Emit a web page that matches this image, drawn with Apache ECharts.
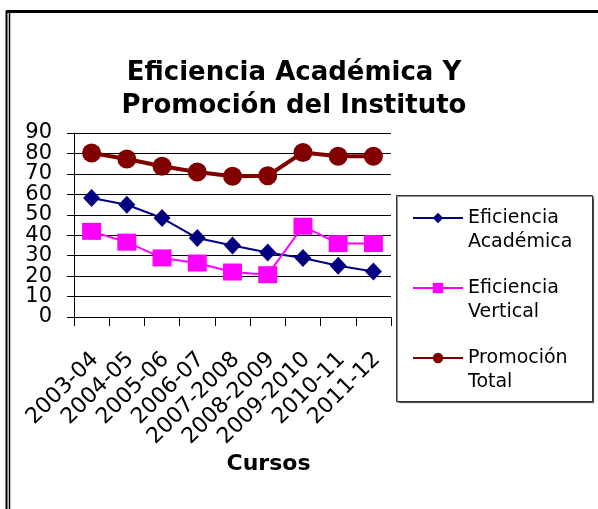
<!DOCTYPE html>
<html><head><meta charset="utf-8">
<script src="https://cdn.jsdelivr.net/npm/echarts@6/dist/echarts.min.js"></script>
<style>html,body{margin:0;padding:0;background:#fff}#c{width:598px;height:509px}</style>
</head><body><div id="c"></div>
<script>
const categories = ['2003-04','2004-05','2005-06','2006-07','2007-2008','2008-2009','2009-2010','2010-11','2011-12'];
const eficienciaAcademica = [58.2, 54.9, 48.4, 38.6, 35.0, 31.6, 28.9, 25.1, 22.3];
const eficienciaVertical = [41.9, 36.6, 28.9, 26.4, 22.0, 20.7, 44.4, 35.9, 35.9];
const promocionTotal = [80.2, 77.3, 73.7, 70.9, 68.8, 69.1, 80.5, 78.6, 78.6];
const yTickValues = [0, 10, 20, 30, 40, 50, 60, 70, 80, 90];
const seriesNames = ['Eficiencia\nAcadémica', 'Eficiencia\nVertical', 'Promoción\nTotal'];
const titleText = 'Eficiencia Académica Y\nPromoción del Instituto';
const xAxisName = 'Cursos';

const F = 'DejaVu Sans';
const chart = echarts.init(document.getElementById('c'), null, {renderer: 'canvas'});
const frame = [
  {type: 'polyline', shape: {points: [[6.5, 509], [6.5, 11.5], [598, 11.5]]}, style: {stroke: '#000', lineWidth: 2, fill: null}, z: 10},
  {type: 'line', shape: {x1: 6.5, y1: 11.5, x2: 598, y2: 11.5}, style: {stroke: '#000', lineWidth: 3}, z: 10},
  {type: 'line', shape: {x1: 9.5, y1: 13, x2: 9.5, y2: 509}, style: {stroke: '#000', lineWidth: 1.5}, z: 10},
  {type: 'rect', shape: {x: 396.5, y: 195.5, width: 196, height: 206}, style: {fill: '#fff', stroke: '#333', lineWidth: 1, shadowColor: 'rgba(0,0,0,0.5)', shadowOffsetX: 1, shadowOffsetY: 1, shadowBlur: 1}, z: 0}
];
chart.setOption({
  backgroundColor: '#fff',
  animation: false,
  title: {
    text: titleText, left: 289, top: 52, textAlign: 'center',
    textStyle: {fontFamily: F, fontSize: 26, fontWeight: 'bold', color: '#000', lineHeight: 33}
  },
  graphic: frame,
  grid: {left: 74, right: 207, top: 133, bottom: 192, containLabel: false},
  legend: {
    orient: 'vertical', left: 412, top: 182, padding: 0, itemGap: -2, z: 5,
    itemWidth: 50, itemHeight: 13,
    data: seriesNames,
    formatter: function (name) { return '\n' + name; },
    textStyle: {fontFamily: F, fontSize: 19, color: '#000', lineHeight: 24}
  },
  xAxis: {
    type: 'category', data: categories, boundaryGap: true,
    name: xAxisName, nameLocation: 'middle', nameGap: 136,
    nameTextStyle: {fontFamily: F, fontSize: 22, fontWeight: 'bold', color: '#000', padding: [0, 0, 0, 72]},
    axisLine: {lineStyle: {color: '#000', width: 1}},
    axisTick: {show: true, length: 9, lineStyle: {color: '#000'}},
    axisLabel: {rotate: 45, margin: 27, padding: [0, 6, 0, 0], verticalAlign: 'top', fontFamily: F, fontSize: 22, color: '#000', interval: 0},
    splitLine: {show: false}
  },
  yAxis: {
    type: 'value', min: 0, max: 90, interval: 10,
    axisLine: {show: true, lineStyle: {color: '#000', width: 1}},
    axisTick: {show: true, length: 7, lineStyle: {color: '#000'}},
    axisLabel: {show: false},
    splitLine: {show: true, lineStyle: {color: '#000', width: 1}}
  },
  series: [
    {name: seriesNames[0], type: 'line', data: eficienciaAcademica, symbol: 'diamond', symbolSize: [17, 18],
     lineStyle: {color: '#000080', width: 2}, itemStyle: {color: '#000080'}},
    {name: seriesNames[1], type: 'line', data: eficienciaVertical, symbol: 'rect', symbolSize: [19, 17],
     lineStyle: {color: '#FF00FF', width: 2}, itemStyle: {color: '#FF00FF'}},
    {name: seriesNames[2], type: 'line', data: promocionTotal, symbol: 'circle', symbolSize: 19,
     lineStyle: {color: '#800000', width: 4}, itemStyle: {color: '#800000'}}
  ]
});
// y-axis tick labels placed through the axis scale (the library hides crowded ones otherwise)
const axisX = chart.convertToPixel({xAxisIndex: 0}, categories[0]) - (chart.convertToPixel({xAxisIndex: 0}, categories[1]) - chart.convertToPixel({xAxisIndex: 0}, categories[0])) / 2;
const yLabels = yTickValues.map(function (v) {
  return {type: 'text', x: axisX - 22, y: chart.convertToPixel({yAxisIndex: 0}, v), z: 10,
    style: {text: String(v), fontFamily: F, fontSize: 21, fill: '#000', align: 'right', verticalAlign: 'middle'}};
});
chart.setOption({graphic: frame.concat(yLabels)});
</script></body></html>
